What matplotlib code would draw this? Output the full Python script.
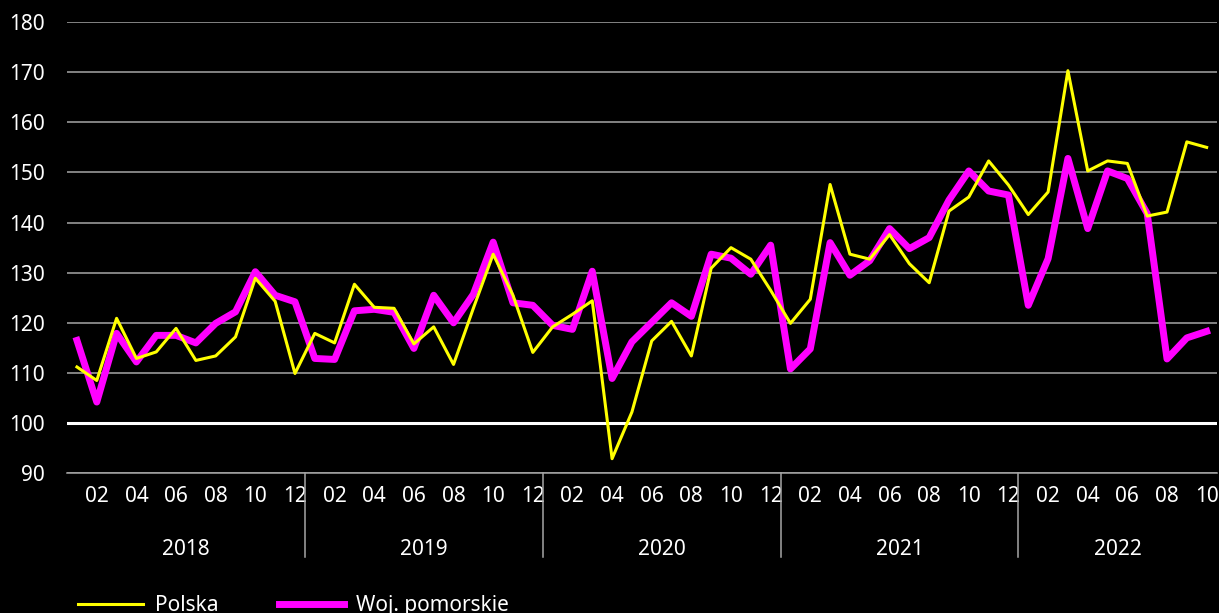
import matplotlib.pyplot as plt
import matplotlib.transforms as mtransforms

# monthly index values, 2018-01 .. 2022-10
years = ["2018", "2019", "2020", "2021", "2022"]
months = ["01", "02", "03", "04", "05", "06", "07", "08", "09", "10", "11", "12"]

polska = [
    111.2, 108.5, 120.9, 112.9, 114.2, 118.9, 112.5, 113.4, 117.2, 128.9, 124.3, 109.9,
    117.9, 116.0, 127.7, 123.1, 122.9, 115.8, 119.2, 111.7, 122.9, 133.7, 125.5, 114.1,
    119.2, 121.7, 124.4, 92.9, 102.2, 116.4, 120.3, 113.4, 130.9, 135.0, 132.7, 126.5,
    119.9, 124.7, 147.6, 133.7, 132.7, 137.6, 131.8, 128.0, 142.3, 145.1, 152.3, 147.5,
    141.6, 146.1, 170.3, 150.3, 152.3, 151.8, 141.3, 142.1, 156.1, 155.0,
]
pomorskie = [
    116.5, 104.2, 117.9, 112.2, 117.5, 117.5, 116.0, 119.9, 122.2, 130.2, 125.5, 124.2,
    112.9, 112.7, 122.4, 122.7, 122.1, 114.9, 125.5, 120.0, 125.7, 136.1, 124.0, 123.5,
    119.5, 118.7, 130.3, 108.9, 116.2, 120.1, 124.0, 121.3, 133.7, 132.9, 129.7, 135.5,
    110.8, 114.8, 136.0, 129.5, 132.4, 138.8, 134.8, 137.0, 144.5, 150.3, 146.3, 145.5,
    123.5, 132.8, 152.8, 138.8, 150.3, 148.8, 141.8, 112.8, 117.0, 118.3,
]

plt.rcParams["font.family"] = ["Noto Sans", "DejaVu Sans"]
plt.rcParams["font.size"] = 15

fig = plt.figure(figsize=(12.19, 6.13), dpi=100, facecolor="black")
ax = fig.add_axes([0.055, 0.228, 0.943, 0.736], facecolor="black")

x = list(range(len(polska)))
ax.plot(x, polska, color="#ffff00", lw=2.2, label="Polska", zorder=4)
ax.plot(x, pomorskie, color="#ff00ff", lw=5, label="Woj. pomorskie", zorder=3)

ax.set_ylim(90, 180)
ax.set_xlim(-0.5, len(polska) - 0.5)
ax.set_yticks(range(90, 181, 10))
ax.grid(axis="y", color="#a6a6a6", lw=1.1)
ax.axhline(100, color="white", lw=2.2, zorder=2)
ax.set_axisbelow(True)
for s in ["top", "right", "left"]:
    ax.spines[s].set_visible(False)
ax.spines["bottom"].set_color("#a6a6a6")
ax.spines["bottom"].set_linewidth(1.1)

# month ticks: every second month
ticks = [i for i in x if i % 2 == 1]
ax.set_xticks(ticks)
ax.set_xticklabels([months[i % 12] for i in ticks])
ax.tick_params(axis="both", length=0, colors="white", labelsize=15)
ax.tick_params(axis="x", pad=9)
ax.tick_params(axis="y", pad=16)

# year labels and separators under the axis
trans = mtransforms.blended_transform_factory(ax.transData, ax.transAxes)
for k, yr in enumerate(years):
    start = k * 12 - 0.5
    end = min(start + 12, len(polska) - 0.5)
    ax.text((start + end) / 2, -0.168, yr, transform=trans, ha="center", va="center",
            color="white", fontsize=15)
    if k > 0:
        ax.plot([start, start], [0, -0.185], transform=trans, color="#a6a6a6", lw=1.1,
                clip_on=False)

fig.legend(loc="center left", bbox_to_anchor=(0.049, 0.012), ncol=2, frameon=False,
           labelcolor="white", fontsize=15, handlelength=3.1, handletextpad=0.58,
           columnspacing=2.9)

fig.savefig("out.png", dpi=100, facecolor="black")
